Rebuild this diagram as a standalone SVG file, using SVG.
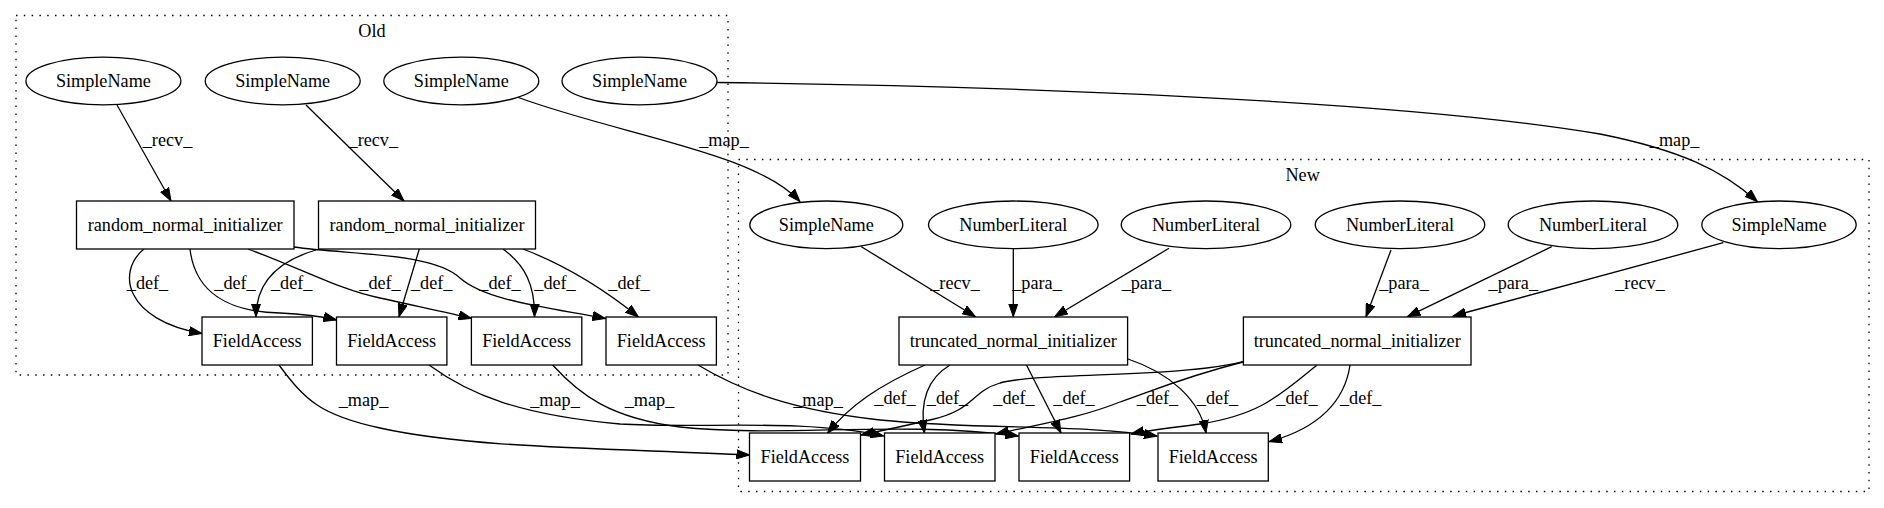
<svg xmlns="http://www.w3.org/2000/svg" width="1884" height="508" viewBox="0 0 1884 508" font-family="'Liberation Serif', 'DejaVu Serif', serif">
<style>
text{font-family:'Liberation Serif','DejaVu Serif',serif;font-size:18.2px;fill:#000;text-anchor:middle}
.n{fill:#fff;stroke:#000;stroke-width:1.3}
.cl{fill:none;stroke:#000;stroke-width:1.3;stroke-dasharray:1.5,6.3}
.e{fill:none;stroke:#000;stroke-width:1.3;marker-end:url(#ah)}
</style>
<defs>
<marker id="ah" markerUnits="userSpaceOnUse" markerWidth="14" markerHeight="10" viewBox="0 0 14 10" refX="13" refY="5" orient="auto">
<path d="M0,0.4 L13,5 L0,9.6 z" fill="#000" stroke="#000" stroke-width="1"/>
</marker>
</defs>
<rect width="1884" height="508" fill="#fff"/>
<g id="cluster_old">
<rect class="cl" x="16" y="15.5" width="712" height="359.5"/>
<text x="372" y="37">Old</text>
</g>
<g id="cluster_new">
<rect class="cl" x="738.5" y="159.5" width="1130.5" height="332"/>
<text x="1302.6" y="181">New</text>
</g>
<g id="edges">
<path class="e" d="M117,105 L171,201"/>
<text x="167.5" y="146">_recv_</text>
<path class="e" d="M306,105 L404,201"/>
<text x="373.3" y="146">_recv_</text>
<path class="e" d="M517,97 C620,135 755,152 800,201.7"/>
<text x="724" y="146">_map_</text>
<path class="e" d="M717,82.5 C1000,86 1400,100 1600,134 C1680,150 1722,170 1757.5,201.7"/>
<text x="1674.6" y="146">_map_</text>
<path class="e" d="M144,249 C116,272 125,320 202,333.5"/>
<text x="147.5" y="289">_def_</text>
<path class="e" d="M190,249 C195,292 228,312 280,313 C305,314 320,316 336.5,320"/>
<text x="235" y="289">_def_</text>
<path class="e" d="M316,250 C275,262 256,285 256,316.7"/>
<text x="291.7" y="289">_def_</text>
<path class="e" d="M248,249 C300,268 340,290 380,298 C420,307 450,313 471.5,318.5"/>
<text x="380" y="289">_def_</text>
<path class="e" d="M419.3,249 L399,316.7"/>
<text x="431.7" y="289">_def_</text>
<path class="e" d="M294,247 C350,255 432,252 460,278 C485,300 540,306 605.5,318.5"/>
<text x="500" y="289">_def_</text>
<path class="e" d="M503,249 C525,265 535,285 534.5,316.7"/>
<text x="555" y="289">_def_</text>
<path class="e" d="M523,249 C565,265 605,290 638.5,317"/>
<text x="629" y="289">_def_</text>
<path class="e" d="M279,365 C305,400 320,415 380,428 C470,448 600,448 749.5,455"/>
<text x="363.5" y="406">_map_</text>
<path class="e" d="M429,365 C470,395 520,415 620,424 C700,429 800,418 883.5,436"/>
<text x="555" y="406">_map_</text>
<path class="e" d="M552.6,365 C580,395 610,418 680,427 C780,438 900,420 1018.5,436"/>
<text x="649.5" y="406">_map_</text>
<path class="e" d="M698,365 C740,390 790,410 880,420 C980,430 1080,424 1157,436"/>
<text x="818" y="406">_map_</text>
<path class="e" d="M861,246.5 L975.5,316.7"/>
<text x="955" y="289">_recv_</text>
<path class="e" d="M1013.3,248.5 L1013.3,316.7"/>
<text x="1037" y="289">_para_</text>
<path class="e" d="M1169,248.3 L1054.6,316.7"/>
<text x="1146.4" y="289">_para_</text>
<path class="e" d="M1391,250 L1366,316.7"/>
<text x="1404" y="289">_para_</text>
<path class="e" d="M1551.7,246.7 L1407.5,316.7"/>
<text x="1513.3" y="289">_para_</text>
<path class="e" d="M1723.3,242.7 L1453,316"/>
<text x="1640" y="289">_recv_</text>
<path class="e" d="M925,365 C880,385 850,405 827.5,433.3"/>
<text x="895" y="404">_def_</text>
<path class="e" d="M950,365 C925,380 920,405 924.5,433"/>
<text x="947.5" y="404">_def_</text>
<path class="e" d="M1026.5,365 L1061,433"/>
<text x="1074" y="404">_def_</text>
<path class="e" d="M1128,359 C1170,373 1200,400 1206,433"/>
<text x="1217.5" y="404">_def_</text>
<path class="e" d="M1243,361.7 C1180,378 1040,372 1000,383 C970,392 975,410 930,420 C900,427 880,431 861,435"/>
<text x="1014" y="404">_def_</text>
<path class="e" d="M1243,362 C1180,378 1150,392 1120,402 C1080,418 1040,424 996,434"/>
<text x="1157.5" y="404">_def_</text>
<path class="e" d="M1317,365 C1280,395 1260,415 1200,424 C1170,428 1150,430 1131,434"/>
<text x="1297" y="404">_def_</text>
<path class="e" d="M1350,365 C1345,400 1320,428 1269,441.7"/>
<text x="1360.7" y="404">_def_</text>
</g>
<g id="o_sn1"><ellipse class="n" cx="103.4" cy="81" rx="77.5" ry="23.8"/><text x="103.4" y="87.3">SimpleName</text></g>
<g id="o_sn2"><ellipse class="n" cx="282.7" cy="81" rx="77.5" ry="23.8"/><text x="282.7" y="87.3">SimpleName</text></g>
<g id="o_sn3"><ellipse class="n" cx="461.3" cy="81" rx="77.5" ry="23.8"/><text x="461.3" y="87.3">SimpleName</text></g>
<g id="o_sn4"><ellipse class="n" cx="639.5" cy="81" rx="77.5" ry="23.8"/><text x="639.5" y="87.3">SimpleName</text></g>
<g id="o_rni1"><rect class="n" x="76.5" y="201" width="217.5" height="48"/><text x="185.2" y="231.3">random_normal_initializer</text></g>
<g id="o_rni2"><rect class="n" x="318.5" y="201" width="217" height="48"/><text x="427" y="231.3">random_normal_initializer</text></g>
<g id="o_fa1"><rect class="n" x="202" y="317" width="110.4" height="48"/><text x="257.2" y="347.3">FieldAccess</text></g>
<g id="o_fa2"><rect class="n" x="336.5" y="317" width="110.4" height="48"/><text x="391.7" y="347.3">FieldAccess</text></g>
<g id="o_fa3"><rect class="n" x="471.4" y="317" width="110.4" height="48"/><text x="526.6" y="347.3">FieldAccess</text></g>
<g id="o_fa4"><rect class="n" x="606" y="317" width="110.4" height="48"/><text x="661.2" y="347.3">FieldAccess</text></g>
<g id="n_sn1"><ellipse class="n" cx="826.3" cy="224.8" rx="76.5" ry="23.8"/><text x="826.3" y="231.1">SimpleName</text></g>
<g id="n_nl1"><ellipse class="n" cx="1013.3" cy="224.8" rx="84.8" ry="23.8"/><text x="1013.3" y="231.1">NumberLiteral</text></g>
<g id="n_nl2"><ellipse class="n" cx="1206" cy="224.8" rx="84.8" ry="23.8"/><text x="1206" y="231.1">NumberLiteral</text></g>
<g id="n_nl3"><ellipse class="n" cx="1400" cy="224.8" rx="84.8" ry="23.8"/><text x="1400" y="231.1">NumberLiteral</text></g>
<g id="n_nl4"><ellipse class="n" cx="1593" cy="224.8" rx="84.8" ry="23.8"/><text x="1593" y="231.1">NumberLiteral</text></g>
<g id="n_sn2"><ellipse class="n" cx="1779" cy="224.8" rx="77.2" ry="23.8"/><text x="1779" y="231.1">SimpleName</text></g>
<g id="n_t1"><rect class="n" x="899" y="317" width="228.6" height="48"/><text x="1013.3" y="347.3">truncated_normal_initializer</text></g>
<g id="n_t2"><rect class="n" x="1243.4" y="317" width="227.6" height="48"/><text x="1357.2" y="347.3">truncated_normal_initializer</text></g>
<g id="n_fa1"><rect class="n" x="749.5" y="433" width="111" height="48"/><text x="805" y="463.3">FieldAccess</text></g>
<g id="n_fa2"><rect class="n" x="884.5" y="433" width="110.5" height="48"/><text x="939.7" y="463.3">FieldAccess</text></g>
<g id="n_fa3"><rect class="n" x="1019" y="433" width="110.6" height="48"/><text x="1074.3" y="463.3">FieldAccess</text></g>
<g id="n_fa4"><rect class="n" x="1158" y="433" width="110.3" height="48"/><text x="1213.1" y="463.3">FieldAccess</text></g>
</svg>
